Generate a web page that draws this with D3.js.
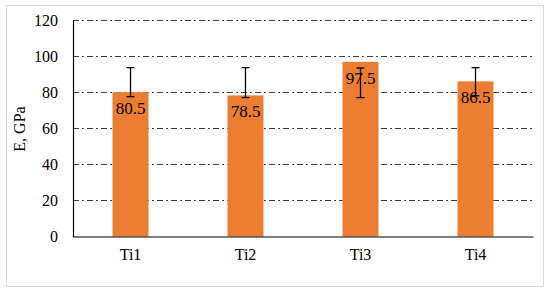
<!DOCTYPE html>
<html>
<head>
<meta charset="utf-8">
<script src="https://cdn.jsdelivr.net/npm/d3@7"></script>
<style>
  html, body { margin: 0; padding: 0; background: #fff; }
  svg text { font-stretch: condensed; }
</style>
</head>
<body>
<div id="chart"></div>
<script>
// Data
var categories = ["Ti1", "Ti2", "Ti3", "Ti4"];
var values = [80, 78.2, 96.8, 86];          // bar heights
var valueLabels = ["80.5", "78.5", "97.5", "86.5"];
var errLow = [77.5, 77, 77, 78];
var errHigh = [93.6, 93.6, 93.4, 93.6];
var yTicks = [0, 20, 40, 60, 80, 100, 120];

var svgWidth = 550, svgHeight = 294;
var margin = {top: 20, right: 17, bottom: 57.5, left: 73};
var graphWidth = svgWidth - margin.left - margin.right;
var graphHeight = svgHeight - margin.top - margin.bottom;
var serif = "'Liberation Serif', 'Times New Roman', Times, Tinos, 'Nimbus Roman', 'DejaVu Serif Condensed', 'DejaVu Serif', serif";

var svg = d3.select("#chart")
    .append("svg")
        .attr("width", svgWidth)
        .attr("height", svgHeight);

// outer chart frame
svg.append("rect")
    .attr("x", 6.5).attr("y", 5.5)
    .attr("width", 537).attr("height", 281)
    .style("fill", "#fff")
    .style("stroke", "#d9d9d9");

var g = svg.append("g")
    .attr("transform", "translate(" + margin.left + "," + margin.top + ")");

var x = d3.scaleBand()
    .domain(categories)
    .range([0, graphWidth])
    .paddingInner(0.687)
    .paddingOuter(0.3435);

var y = d3.scaleLinear()
    .domain([0, 120])
    .range([graphHeight, 0]);

// dash-dot gridlines
g.selectAll(".grid")
    .data(yTicks.filter(function(d){ return d > 0; }))
    .enter()
    .append("line")
        .attr("x1", 0)
        .attr("x2", graphWidth)
        .attr("y1", function(d){ return Math.round(y(d)) + 0.5; })
        .attr("y2", function(d){ return Math.round(y(d)) + 0.5; })
        .style("stroke", "#404040")
        .style("stroke-width", 1)
        .style("stroke-dasharray", "6,3,2,3");

// bars
g.selectAll(".bar")
    .data(values)
    .enter()
    .append("rect")
        .attr("x", function(d, i){ return x(categories[i]); })
        .attr("y", function(d){ return y(d); })
        .attr("width", x.bandwidth())
        .attr("height", function(d){ return graphHeight - y(d); })
        .style("fill", "#ed7d31");

// y axis
var yAxis = g.append("g")
    .call(d3.axisLeft(y).tickValues(yTicks).tickSize(0).tickPadding(15));
yAxis.attr("font-family", serif).attr("font-size", 16);
yAxis.select(".domain").style("stroke", "#000").style("stroke-width", 1.2);
yAxis.selectAll("text").style("fill", "#000");

// x axis
var xAxis = g.append("g")
    .attr("transform", "translate(0," + graphHeight + ")")
    .call(d3.axisBottom(x).tickSize(0).tickPadding(12).tickSizeOuter(0));
xAxis.attr("font-family", serif).attr("font-size", 16);
xAxis.select(".domain").style("stroke", "#000").style("stroke-width", 1.2);
xAxis.selectAll("text").style("fill", "#000");

// error bars
var eb = g.selectAll(".err")
    .data(values)
    .enter()
    .append("g");
var cx = function(i){ return x(categories[i]) + x.bandwidth() / 2; };
eb.append("line")
    .attr("x1", function(d, i){ return cx(i); })
    .attr("x2", function(d, i){ return cx(i); })
    .attr("y1", function(d, i){ return y(errLow[i]); })
    .attr("y2", function(d, i){ return y(errHigh[i]); })
    .style("stroke", "#000").style("stroke-width", 1.3);
eb.append("line")
    .attr("x1", function(d, i){ return cx(i) - 4; })
    .attr("x2", function(d, i){ return cx(i) + 4; })
    .attr("y1", function(d, i){ return y(errLow[i]); })
    .attr("y2", function(d, i){ return y(errLow[i]); })
    .style("stroke", "#000").style("stroke-width", 1.3);
eb.append("line")
    .attr("x1", function(d, i){ return cx(i) - 4; })
    .attr("x2", function(d, i){ return cx(i) + 4; })
    .attr("y1", function(d, i){ return y(errHigh[i]); })
    .attr("y2", function(d, i){ return y(errHigh[i]); })
    .style("stroke", "#000").style("stroke-width", 1.3);

// value labels
g.selectAll(".lbl")
    .data(values)
    .enter()
    .append("text")
        .attr("x", function(d, i){ return cx(i); })
        .attr("y", function(d){ return y(d) + 22; })
        .attr("text-anchor", "middle")
        .attr("font-family", serif)
        .attr("font-size", 17)
        .attr("fill", "#000")
        .text(function(d, i){ return valueLabels[i]; });

// y axis title
svg.append("text")
    .attr("transform", "translate(25,129) rotate(-90)")
    .attr("text-anchor", "middle")
    .attr("font-family", serif)
    .attr("font-size", 16)
    .attr("fill", "#000")
    .text("E, GPa");
</script>
</body>
</html>
